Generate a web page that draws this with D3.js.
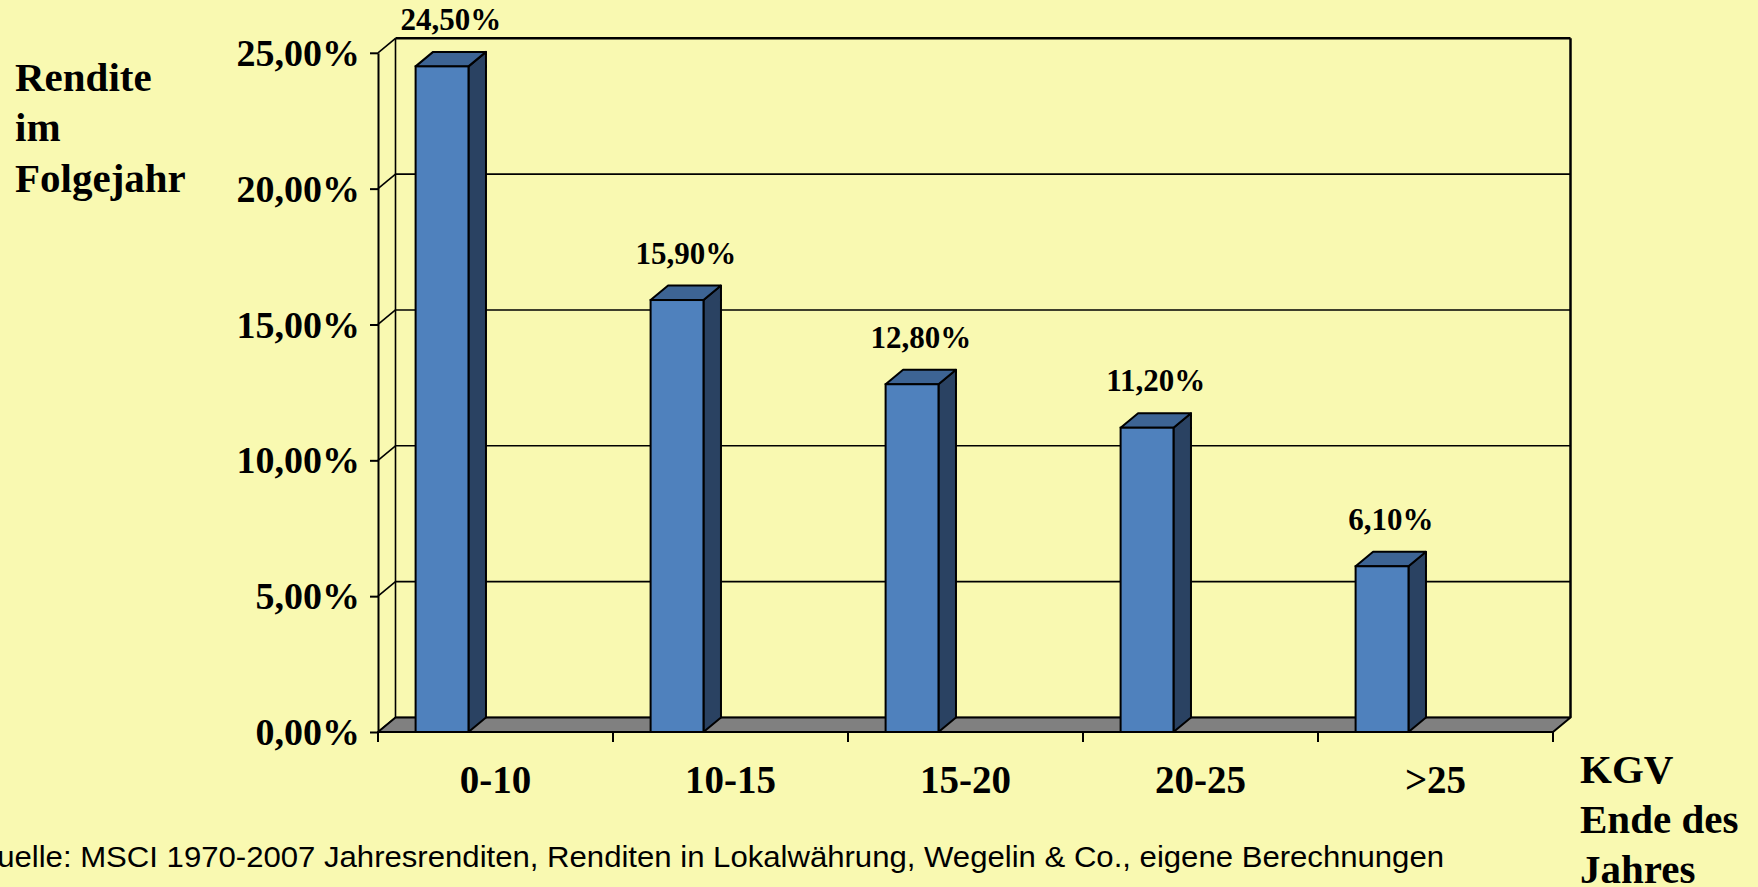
<!DOCTYPE html>
<html>
<head>
<meta charset="utf-8">
<script src="https://cdn.jsdelivr.net/npm/d3@7"></script>
<style>
  html, body { margin: 0; padding: 0; background: #F9F9B1; }
  svg { display: block; }
</style>
</head>
<body>
<script>
// KGV classes and the average return in the following year
const categories = ["0-10", "10-15", "15-20", "20-25", ">25"];
const values = [24.5, 15.9, 12.8, 11.2, 6.1];
const yTicks = [0, 5, 10, 15, 20, 25];
const yTitle = ["Rendite", "im", "Folgejahr"];
const xTitle = ["KGV", "Ende des", "Jahres"];
const source = "Quelle: MSCI 1970-2007 Jahresrenditen, Renditen in Lokalwährung, Wegelin & Co., eigene Berechnungen";

const W = 1758, H = 887;
const serif = "'Liberation Serif', 'Times New Roman', serif";
const sans = "'Liberation Sans', Arial, sans-serif";

const de = d3.formatLocale({ decimal: ",", thousands: ".", grouping: [3], currency: ["", " €"] });
const pct = v => de.format(".2f")(v) + "%";

const svg = d3.select("body").append("svg").attr("width", W).attr("height", H);
svg.append("rect").attr("width", W).attr("height", H).attr("fill", "#F9F9B1");

// front plane of the 3D plot box and the depth offset of the walls
const plotL = 378, plotR = 1553, plotB = 732, plotT = 52.8;
const dx = 17.5, dy = 14.5;

const x = d3.scaleBand().domain(categories).range([plotL, plotR]).padding(0);
const y = d3.scaleLinear().domain([0, 25]).range([plotB, plotT]);
const bw = x.bandwidth();
const barOff = bw * 0.16, barW = bw * 0.225;

const g = svg.append("g");
const line = (x1, y1, x2, y2, w) => g.append("line")
  .attr("x1", x1).attr("y1", y1).attr("x2", x2).attr("y2", y2)
  .attr("stroke", "#000").attr("stroke-width", w || 2);

// back wall gridlines and outline
yTicks.forEach(t => {
  line(plotL + dx, y(t) - dy, plotR + dx, y(t) - dy, t === 25 ? 2.5 : 1.6);
  line(plotL, y(t), plotL + dx, y(t) - dy, 1.6);
});
line(plotL + dx, y(25) - dy, plotL + dx, plotB - dy, 1.6);
line(plotR + dx, y(25) - dy, plotR + dx, plotB - dy, 2.5);

// floor
g.append("path")
  .attr("d", `M${plotL},${plotB}L${plotR},${plotB}L${plotR + dx},${plotB - dy}L${plotL + dx},${plotB - dy}Z`)
  .attr("fill", "#808080").attr("stroke", "#000").attr("stroke-width", 2).attr("stroke-linejoin", "round");

// bars: front, side and top faces
const bars = g.selectAll("g.bar").data(categories.map((c, i) => ({ c, v: values[i] })))
  .join("g").attr("class", "bar");
bars.append("path")
  .attr("d", d => {
    const xr = x(d.c) + barOff + barW, yt = y(d.v);
    return `M${xr},${yt}L${xr + dx},${yt - dy}L${xr + dx},${plotB - dy}L${xr},${plotB}Z`;
  })
  .attr("fill", "#2A4262").attr("stroke", "#000").attr("stroke-width", 2).attr("stroke-linejoin", "round");
bars.append("path")
  .attr("d", d => {
    const xl = x(d.c) + barOff, xr = xl + barW, yt = y(d.v);
    return `M${xl},${yt}L${xr},${yt}L${xr + dx},${yt - dy}L${xl + dx},${yt - dy}Z`;
  })
  .attr("fill", "#3D6494").attr("stroke", "#000").attr("stroke-width", 2).attr("stroke-linejoin", "round");
bars.append("rect")
  .attr("x", d => x(d.c) + barOff).attr("y", d => y(d.v))
  .attr("width", barW).attr("height", d => plotB - y(d.v))
  .attr("fill", "#4F81BD").attr("stroke", "#000").attr("stroke-width", 2);

// value labels
bars.append("text")
  .attr("x", d => x(d.c) + barOff + (barW + dx) / 2)
  .attr("y", d => y(d.v) - dy - 22)
  .attr("text-anchor", "middle")
  .attr("font-family", serif).attr("font-weight", "bold").attr("font-size", 31)
  .text(d => pct(d.v));

// y axis on the front edge of the left wall
const yAxis = svg.append("g").attr("transform", `translate(${plotL},0)`)
  .call(d3.axisLeft(y).tickValues(yTicks).tickFormat(pct).tickSize(8).tickPadding(10).tickSizeOuter(0));
yAxis.select(".domain").attr("stroke", "#000").attr("stroke-width", 2);
yAxis.selectAll(".tick line").attr("stroke", "#000").attr("stroke-width", 2);
yAxis.selectAll(".tick text")
  .attr("font-family", serif).attr("font-weight", "bold").attr("font-size", 38)
  .attr("fill", "#000").attr("dy", "0.33em");

// x axis: ticks at band edges, labels at band centres
const xAxis = svg.append("g").attr("transform", `translate(0,${plotB})`);
xAxis.append("line").attr("x1", plotL).attr("x2", plotR).attr("stroke", "#000").attr("stroke-width", 2);
xAxis.selectAll("line.tk").data(categories.map(c => x(c)).concat([plotR]))
  .join("line").attr("class", "tk")
  .attr("x1", d => d).attr("x2", d => d).attr("y1", 0).attr("y2", 10)
  .attr("stroke", "#000").attr("stroke-width", 2);
xAxis.selectAll("text").data(categories).join("text")
  .attr("x", d => x(d) + bw / 2).attr("y", 61)
  .attr("text-anchor", "middle")
  .attr("font-family", serif).attr("font-weight", "bold").attr("font-size", 39)
  .text(d => d);

// axis titles
svg.append("text").attr("font-family", serif).attr("font-weight", "bold").attr("font-size", 41)
  .selectAll("tspan").data(yTitle).join("tspan")
  .attr("x", 15).attr("y", (d, i) => 90.7 + i * 50.5).text(d => d);
svg.append("text").attr("font-family", serif).attr("font-weight", "bold").attr("font-size", 41)
  .selectAll("tspan").data(xTitle).join("tspan")
  .attr("x", 1580).attr("y", (d, i) => 782.7 + i * 50.2).text(d => d);

// source note
svg.append("text")
  .attr("x", -27).attr("y", 866.7)
  .attr("font-family", sans).attr("font-size", 30)
  .attr("textLength", 1471).attr("lengthAdjust", "spacingAndGlyphs")
  .text(source);
</script>
</body>
</html>
